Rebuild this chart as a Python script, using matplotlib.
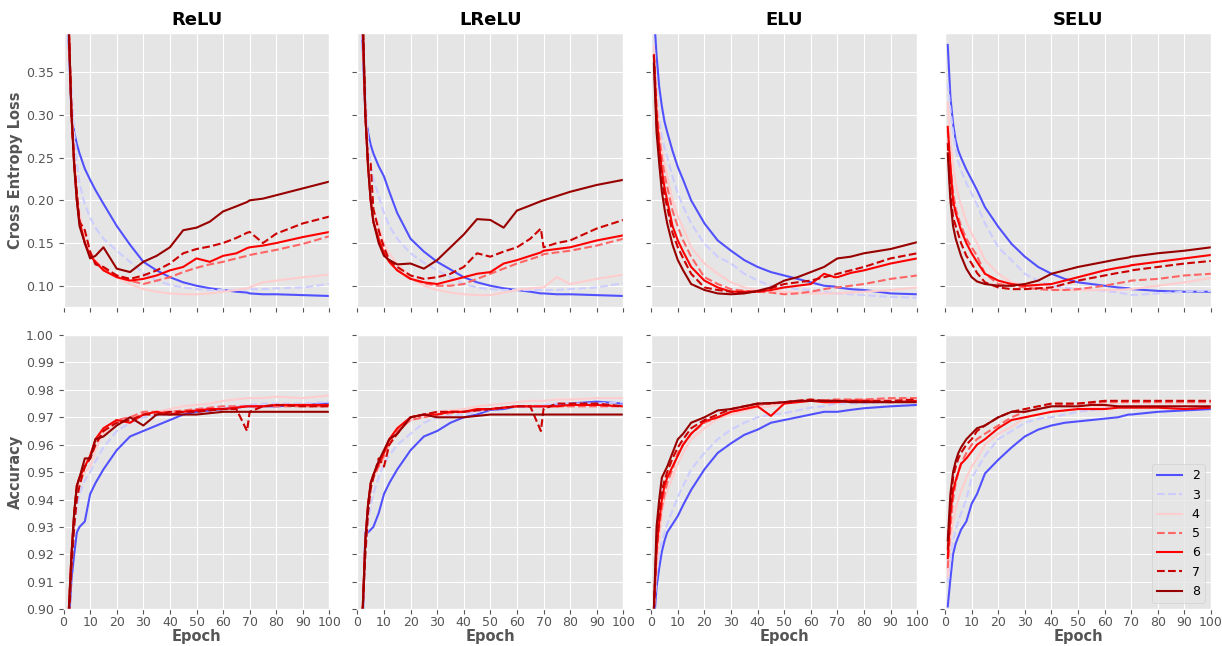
import numpy as np
import matplotlib
matplotlib.use("Agg")
import matplotlib.pyplot as plt

epochs = [1, 2, 3, 4, 5, 6, 8, 10, 12, 15, 20, 25, 30, 35, 40, 45, 50, 55, 60, 65, 69, 70, 75, 80, 90, 100]
depths = ["2", "3", "4", "5", "6", "7", "8"]
activations = ["ReLU", "LReLU", "ELU", "SELU"]

#---------------- loss ----------------
relu_loss = [
    [.46, .38, .30, .28, .266, .255, .237, .224, .212, .196, .170, .148, .128, .118, .110, .104, .100, .097, .095, .093, .092, .091, .090, .090, .089, .088],
    [.46, .38, .33, .28, .245, .220, .195, .180, .168, .155, .141, .128, .115, .106, .101, .098, .096, .095, .095, .095, .096, .096, .096, .097, .098, .102],
    [.46, .40, .31, .25, .21, .185, .155, .140, .130, .120, .110, .102, .096, .093, .091, .090, .090, .091, .093, .095, .097, .098, .104, .106, .110, .113],
    [.46, .40, .30, .24, .20, .175, .150, .135, .128, .120, .112, .106, .102, .106, .110, .116, .121, .125, .128, .132, .135, .136, .139, .142, .149, .158],
    [.46, .40, .30, .245, .20, .175, .150, .135, .128, .118, .110, .106, .108, .112, .118, .122, .132, .128, .135, .138, .144, .145, .147, .150, .157, .163],
    [.46, .40, .30, .245, .21, .175, .165, .140, .125, .122, .112, .108, .112, .118, .126, .138, .143, .146, .150, .156, .162, .163, .150, .161, .173, .181],
    [.46, .40, .30, .24, .20, .17, .150, .132, .135, .145, .120, .116, .128, .135, .145, .165, .168, .175, .187, .193, .198, .200, .202, .206, .214, .222],
]
lrelu_loss = [
    [.46, .38, .30, .28, .265, .255, .240, .228, .210, .185, .155, .140, .128, .119, .110, .104, .100, .097, .095, .093, .091, .091, .090, .090, .089, .088],
    [.46, .38, .33, .27, .24, .225, .205, .185, .170, .155, .138, .127, .118, .110, .102, .098, .096, .095, .095, .095, .095, .095, .095, .096, .098, .103],
    [.46, .40, .31, .25, .21, .19, .170, .150, .138, .125, .110, .100, .095, .092, .090, .089, .089, .092, .095, .097, .098, .098, .110, .102, .108, .113],
    [.46, .40, .30, .24, .20, .175, .155, .138, .128, .118, .108, .103, .100, .100, .102, .108, .114, .120, .126, .131, .135, .137, .139, .141, .147, .155],
    [.46, .40, .30, .24, .20, .175, .155, .138, .128, .118, .108, .104, .102, .106, .110, .114, .116, .126, .130, .135, .139, .141, .143, .145, .153, .159],
    [.46, .42, .30, .245, .243, .19, .165, .145, .130, .122, .112, .108, .110, .114, .122, .138, .134, .140, .145, .155, .167, .145, .150, .153, .167, .177],
    [.46, .42, .30, .24, .20, .175, .150, .135, .130, .125, .126, .120, .130, .145, .160, .178, .177, .168, .188, .194, .199, .200, .205, .210, .218, .224],
]
elu_loss = [
    [.42, .37, .333, .31, .292, .28, .258, .239, .224, .200, .173, .153, .141, .130, .122, .116, .112, .108, .104, .100, .099, .098, .096, .095, .091, .090],
    [.37, .33, .294, .275, .262, .251, .228, .208, .193, .173, .149, .134, .126, .114, .106, .100, .098, .096, .095, .093, .091, .091, .090, .089, .087, .086],
    [.38, .32, .282, .26, .243, .228, .200, .181, .168, .145, .126, .114, .104, .098, .095, .094, .093, .092, .091, .091, .091, .091, .092, .093, .095, .098],
    [.37, .31, .275, .25, .23, .216, .188, .169, .153, .134, .110, .102, .096, .094, .093, .092, .090, .091, .093, .096, .098, .098, .100, .102, .108, .112],
    [.37, .30, .263, .235, .215, .200, .170, .153, .140, .122, .106, .098, .093, .093, .093, .095, .098, .100, .102, .114, .110, .110, .115, .118, .126, .132],
    [.37, .29, .255, .225, .205, .192, .162, .145, .132, .114, .098, .095, .093, .092, .093, .097, .102, .104, .106, .110, .113, .114, .118, .122, .132, .138],
    [.36, .28, .243, .21, .19, .173, .148, .130, .118, .102, .095, .091, .090, .091, .094, .098, .106, .110, .116, .122, .130, .132, .134, .138, .143, .151],
]
selu_loss = [
    [.382, .321, .29, .27, .258, .25, .236, .224, .212, .192, .169, .149, .134, .122, .114, .108, .104, .102, .100, .098, .097, .096, .095, .094, .093, .093],
    [.337, .306, .28, .26, .245, .235, .220, .208, .195, .173, .145, .130, .114, .106, .100, .098, .096, .095, .094, .092, .090, .089, .090, .091, .093, .094],
    [.314, .27, .24, .22, .205, .195, .175, .161, .150, .130, .114, .104, .100, .098, .096, .095, .095, .095, .095, .095, .096, .096, .098, .100, .104, .109],
    [.282, .24, .21, .19, .18, .17, .155, .145, .135, .114, .102, .100, .098, .096, .095, .095, .096, .098, .100, .103, .105, .106, .107, .108, .112, .114],
    [.286, .24, .20, .185, .175, .165, .150, .138, .128, .114, .106, .102, .100, .101, .102, .106, .110, .114, .118, .121, .123, .124, .126, .128, .132, .136],
    [.267, .21, .18, .17, .16, .15, .135, .126, .115, .104, .098, .096, .096, .097, .098, .102, .106, .109, .112, .115, .117, .118, .120, .122, .126, .129],
    [.255, .20, .17, .155, .145, .135, .120, .110, .105, .102, .100, .100, .102, .106, .114, .118, .122, .125, .128, .131, .133, .134, .136, .138, .141, .145],
]

#---------------- accuracy ----------------
relu_acc = [
    [.86, .895, .911, .92, .928, .930, .932, .942, .946, .951, .958, .963, .965, .967, .969, .971, .972, .9725, .973, .9735, .974, .974, .974, .974, .9745, .975],
    [.86, .895, .915, .93, .937, .942, .947, .950, .954, .959, .965, .968, .970, .9705, .971, .972, .973, .9735, .974, .974, .9745, .9745, .975, .975, .975, .9757],
    [.86, .90, .92, .935, .942, .946, .950, .952, .958, .964, .969, .970, .971, .972, .973, .974, .9745, .975, .976, .9765, .977, .977, .977, .9775, .977, .978],
    [.86, .90, .92, .935, .945, .948, .952, .955, .960, .965, .969, .970, .972, .972, .972, .9725, .973, .9735, .974, .974, .974, .974, .974, .974, .974, .974],
    [.86, .90, .92, .935, .945, .948, .952, .956, .962, .966, .969, .968, .971, .972, .971, .972, .9725, .973, .973, .9735, .974, .974, .974, .9745, .9745, .9745],
    [.86, .895, .915, .93, .94, .945, .952, .955, .960, .965, .968, .969, .971, .971, .972, .972, .972, .9725, .973, .973, .965, .972, .974, .9745, .974, .974],
    [.86, .90, .92, .935, .945, .948, .955, .955, .962, .963, .967, .970, .967, .971, .971, .971, .971, .9715, .972, .972, .972, .972, .972, .972, .972, .972],
]
lrelu_acc = [
    [.86, .895, .928, .928, .929, .930, .935, .942, .946, .951, .958, .963, .965, .968, .970, .971, .9727, .973, .974, .974, .974, .974, .9745, .975, .9757, .975],
    [.86, .90, .92, .932, .938, .942, .948, .953, .956, .960, .964, .968, .970, .9705, .971, .972, .973, .9735, .974, .974, .9745, .9745, .975, .975, .975, .9755],
    [.86, .90, .925, .938, .945, .948, .952, .955, .960, .965, .969, .970, .972, .9725, .973, .974, .9745, .975, .9755, .976, .976, .976, .9765, .9765, .977, .977],
    [.86, .90, .925, .938, .945, .948, .952, .956, .961, .965, .969, .970, .971, .9715, .972, .9725, .973, .9735, .974, .974, .974, .974, .974, .974, .974, .974],
    [.86, .90, .925, .938, .946, .949, .953, .957, .962, .966, .970, .971, .971, .972, .972, .973, .973, .9735, .974, .974, .974, .974, .974, .9745, .9745, .974],
    [.86, .90, .92, .935, .944, .948, .955, .952, .960, .964, .970, .971, .972, .972, .972, .9725, .973, .9735, .974, .974, .965, .973, .975, .975, .975, .974],
    [.86, .90, .925, .938, .946, .949, .954, .958, .962, .964, .970, .971, .970, .970, .970, .9705, .971, .971, .971, .971, .971, .971, .971, .971, .971, .971],
]
elu_acc = [
    [.895, .908, .915, .921, .925, .928, .931, .934, .938, .9435, .951, .957, .9605, .9636, .9655, .968, .969, .970, .971, .972, .972, .972, .9727, .9733, .974, .9745],
    [.898, .913, .920, .925, .928, .931, .936, .941, .945, .951, .957, .962, .9655, .968, .970, .971, .9715, .9725, .9735, .974, .975, .975, .975, .975, .9757, .976],
    [.90, .915, .925, .935, .940, .943, .948, .953, .957, .962, .966, .9695, .971, .9725, .9735, .974, .975, .9755, .976, .976, .976, .976, .9762, .9765, .9765, .977],
    [.90, .92, .930, .937, .942, .946, .951, .957, .960, .964, .968, .970, .972, .973, .9745, .975, .9755, .976, .976, .9762, .9765, .9765, .9765, .9765, .977, .977],
    [.90, .922, .932, .940, .945, .948, .952, .956, .960, .964, .9685, .970, .972, .973, .974, .9705, .975, .9755, .976, .9755, .9755, .9755, .976, .976, .9755, .976],
    [.90, .925, .935, .943, .947, .950, .955, .959, .962, .966, .969, .971, .973, .974, .975, .975, .9755, .976, .9765, .976, .976, .976, .976, .976, .976, .9765],
    [.90, .93, .940, .948, .950, .952, .957, .962, .964, .968, .970, .9725, .973, .974, .975, .9752, .9755, .976, .976, .976, .976, .976, .9755, .9755, .9755, .9755],
]
selu_acc = [
    [.901, .911, .920, .924, .9265, .929, .932, .9385, .942, .9495, .9545, .959, .963, .9655, .967, .968, .9685, .969, .9695, .970, .971, .971, .9715, .972, .9725, .973],
    [.9095, .918, .925, .929, .932, .935, .940, .948, .951, .956, .962, .965, .968, .9695, .970, .971, .972, .9725, .9735, .9735, .974, .974, .974, .974, .974, .974],
    [.912, .925, .932, .937, .940, .943, .948, .952, .955, .960, .964, .9665, .970, .971, .972, .9725, .973, .9735, .974, .974, .974, .974, .974, .974, .974, .974],
    [.915, .93, .940, .946, .950, .953, .957, .960, .962, .964, .967, .970, .972, .973, .974, .9745, .975, .9752, .9755, .9755, .9755, .9755, .9755, .9755, .9755, .9755],
    [.9186, .935, .943, .947, .950, .953, .955, .9575, .960, .962, .966, .969, .970, .971, .972, .9725, .973, .973, .973, .9735, .9735, .9735, .9735, .9735, .973, .9735],
    [.9216, .937, .948, .952, .955, .957, .960, .962, .965, .967, .970, .972, .973, .974, .975, .975, .975, .9755, .976, .976, .976, .976, .976, .976, .976, .976],
    [.925, .942, .950, .954, .957, .959, .962, .964, .966, .967, .970, .972, .972, .973, .974, .974, .974, .9745, .9745, .974, .974, .974, .974, .974, .974, .974],
]

losses = [relu_loss, lrelu_loss, elu_loss, selu_loss]
accs = [relu_acc, lrelu_acc, elu_acc, selu_acc]


def main():
    plt.style.use("ggplot")
    cmap = plt.get_cmap("seismic")
    colors = [cmap(v) for v in [0.33, 0.45, 0.55, 0.65, 0.75, 0.85, 0.95]]
    styles = ["-", "--", "-", "--", "-", "--", "-"]

    fig, axes = plt.subplots(2, 4, figsize=(12.22, 6.46), dpi=100, sharex=True, sharey="row")
    fig.subplots_adjust(left=0.052, right=0.991, top=0.949, bottom=0.057, wspace=0.105, hspace=0.102)

    for j, act in enumerate(activations):
        ax_l = axes[0, j]
        ax_a = axes[1, j]
        for k, d in enumerate(depths):
            ax_l.plot(epochs, losses[j][k], color=colors[k], ls=styles[k], lw=1.5, label=d)
            ax_a.plot(epochs, accs[j][k], color=colors[k], ls=styles[k], lw=1.5, label=d)
        ax_l.set_title(act, fontsize=13, fontweight="bold")
        ax_a.set_xlabel("Epoch", fontsize=10.5, fontweight="bold", labelpad=0)

    axes[0, 0].set_ylim(0.075, 0.396)
    axes[0, 0].set_yticks([0.10, 0.15, 0.20, 0.25, 0.30, 0.35])
    axes[1, 0].set_ylim(0.90, 1.00)
    axes[1, 0].set_yticks(np.arange(0.90, 1.001, 0.01))
    axes[1, 0].yaxis.set_major_formatter(matplotlib.ticker.FormatStrFormatter("%.2f"))
    axes[0, 0].yaxis.set_major_formatter(matplotlib.ticker.FormatStrFormatter("%.2f"))
    axes[1, 0].set_xlim(0, 100)
    axes[1, 0].set_xticks(range(0, 101, 10))

    for ax in axes.flat:
        ax.tick_params(labelsize=9)
        ax.tick_params(axis="x", pad=1.5)

    axes[0, 0].set_ylabel("Cross Entropy Loss", fontsize=10.5, fontweight="bold", labelpad=2)
    axes[1, 0].set_ylabel("Accuracy", fontsize=10.5, fontweight="bold", labelpad=2)
    axes[1, 3].legend(loc="lower right", fontsize=9)

    plt.savefig("out.png", dpi=100)


if __name__ == "__main__":
    main()
